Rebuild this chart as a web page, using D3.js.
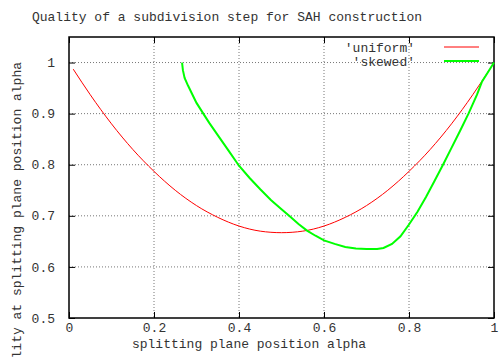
<!DOCTYPE html>
<html lang="en">
	<head>
		<meta charset="utf-8">
		<title>Quality of a subdivision step for SAH construction</title>
		<script type="text/javascript" src="https://cdn.jsdelivr.net/npm/d3@7"></script>
		<style type="text/css">
			body { margin: 0; background: #fff; }
			text { font-family: "Liberation Mono", "Courier New", monospace; font-size: 13px; fill: #333; }
		</style>
	</head>
	<body>
		<script type="text/javascript">

			//Width and height
			var w = 499;
			var h = 358;

			//Tick values and labels
			var xTicks = [0, 0.2, 0.4, 0.6, 0.8, 1];
			var yTicks = [0.5, 0.6, 0.7, 0.8, 0.9, 1];

			//Series names
			var seriesNames = ["'uniform'", "'skewed'"];

			//'uniform' curve
			var uniformAlpha = [0.01, 0.05, 0.10, 0.15, 0.20, 0.25, 0.30, 0.35, 0.40, 0.45, 0.50,
			                    0.55, 0.60, 0.65, 0.70, 0.75, 0.80, 0.85, 0.90, 0.95, 0.99];
			var uniformQuality = [0.987, 0.937, 0.880, 0.830, 0.787, 0.750, 0.720, 0.697, 0.680, 0.670, 0.667,
			                      0.670, 0.680, 0.697, 0.720, 0.750, 0.787, 0.830, 0.880, 0.937, 0.987];

			//'skewed' curve
			var skewedAlpha = [0.266, 0.268, 0.272, 0.280, 0.290, 0.300, 0.316, 0.330, 0.350, 0.375, 0.400,
			                   0.425, 0.450, 0.475, 0.500, 0.518, 0.540, 0.560, 0.580, 0.600, 0.625,
			                   0.650, 0.675, 0.700, 0.725, 0.740, 0.760, 0.780, 0.800, 0.820, 0.840,
			                   0.860, 0.880, 0.900, 0.920, 0.940, 0.960, 0.972, 0.985, 1.000];
			var skewedQuality = [1.000, 0.985, 0.970, 0.955, 0.938, 0.921, 0.900, 0.882, 0.858, 0.828, 0.798,
			                     0.774, 0.752, 0.731, 0.713, 0.700, 0.684, 0.671, 0.661, 0.652, 0.645,
			                     0.639, 0.636, 0.635, 0.635, 0.637, 0.645, 0.660, 0.683, 0.708, 0.737,
			                     0.768, 0.800, 0.833, 0.866, 0.900, 0.937, 0.963, 0.980, 1.000];

			//Plot area
			var pLeft = 69, pRight = 494, pTop = 37, pBottom = 318;

			var x = d3.scaleLinear().domain([0, 1]).range([pLeft, pRight]);
			var y = d3.scaleLinear().domain([0.5, 1.05]).range([pBottom, pTop]);

			//Create SVG element
			var svg = d3.select("body")
						.append("svg")
						.attr("width", w)
						.attr("height", h);

			//Grid
			svg.selectAll("line.gx")
			   .data(xTicks.slice(1, -1))
			   .enter()
			   .append("line")
			   .attr("x1", function(d) { return x(d); })
			   .attr("x2", function(d) { return x(d); })
			   .attr("y1", pTop)
			   .attr("y2", pBottom)
			   .attr("stroke", "#777")
			   .attr("stroke-dasharray", "1,2");

			svg.selectAll("line.gy")
			   .data(yTicks.slice(1))
			   .enter()
			   .append("line")
			   .attr("x1", pLeft)
			   .attr("x2", pRight)
			   .attr("y1", function(d) { return y(d); })
			   .attr("y2", function(d) { return y(d); })
			   .attr("stroke", "#777")
			   .attr("stroke-dasharray", "1,2");

			//Axes with inward ticks on all four sides
			svg.append("g")
			   .attr("transform", "translate(0," + pBottom + ")")
			   .call(d3.axisBottom(x).tickValues(xTicks).tickSize(-6).tickPadding(5).tickFormat(d3.format("")))
			   .call(function(g) { g.select(".domain").remove(); });
			svg.append("g")
			   .attr("transform", "translate(0," + pTop + ")")
			   .call(d3.axisTop(x).tickValues(xTicks).tickSize(-6).tickFormat(""))
			   .call(function(g) { g.select(".domain").remove(); });
			svg.append("g")
			   .attr("transform", "translate(" + pLeft + ",0)")
			   .call(d3.axisLeft(y).tickValues(yTicks).tickSize(-6).tickPadding(14).tickFormat(d3.format("")))
			   .call(function(g) { g.select(".domain").remove(); });
			svg.append("g")
			   .attr("transform", "translate(" + pRight + ",0)")
			   .call(d3.axisRight(y).tickValues(yTicks).tickSize(-6).tickFormat(""))
			   .call(function(g) { g.select(".domain").remove(); });

			svg.selectAll(".tick line").attr("stroke", "#000");
			svg.selectAll(".tick text")
			   .attr("fill", "#333")
			   .style("font-family", "'Liberation Mono', monospace")
			   .style("font-size", "13px");

			//Frame
			svg.append("rect")
			   .attr("x", pLeft)
			   .attr("y", pTop)
			   .attr("width", pRight - pLeft)
			   .attr("height", pBottom - pTop)
			   .attr("fill", "none")
			   .attr("stroke", "#000")
			   .attr("stroke-width", 1.5);

			//Curves
			var line = d3.line()
			   .x(function(d) { return x(d[0]); })
			   .y(function(d) { return y(d[1]); });

			svg.append("path")
			   .datum(d3.zip(uniformAlpha, uniformQuality))
			   .attr("d", line.curve(d3.curveMonotoneX))
			   .attr("fill", "none")
			   .attr("stroke", "#ff0000")
			   .attr("stroke-width", 1);

			svg.append("path")
			   .datum(d3.zip(skewedAlpha, skewedQuality))
			   .attr("d", line.curve(d3.curveLinear))
			   .attr("fill", "none")
			   .attr("stroke", "#00ff00")
			   .attr("stroke-width", 2);

			//Legend
			var legendColors = ["#ff0000", "#00ff00"];
			svg.selectAll("text.legend")
			   .data(seriesNames)
			   .enter()
			   .append("text")
			   .attr("x", 415)
			   .attr("y", function(d, i) { return 52 + i * 14; })
			   .attr("text-anchor", "end")
			   .text(function(d) { return d; });
			svg.selectAll("line.legend")
			   .data(legendColors)
			   .enter()
			   .append("line")
			   .attr("x1", 444)
			   .attr("x2", 479)
			   .attr("y1", function(d, i) { return 47 + i * 14; })
			   .attr("y2", function(d, i) { return 47 + i * 14; })
			   .attr("stroke", function(d) { return d; })
			   .attr("stroke-width", function(d, i) { return i ? 2 : 1; });

			//Title and axis labels
			svg.append("text")
			   .attr("x", 227)
			   .attr("y", 21)
			   .attr("text-anchor", "middle")
			   .text("Quality of a subdivision step for SAH construction");

			svg.append("text")
			   .attr("x", 249)
			   .attr("y", 348)
			   .attr("text-anchor", "middle")
			   .text("splitting plane position alpha");

			svg.append("text")
			   .attr("transform", "translate(21,62) rotate(-90)")
			   .attr("text-anchor", "end")
			   .text("Quality at splitting plane position alpha");

		</script>
	</body>
</html>
